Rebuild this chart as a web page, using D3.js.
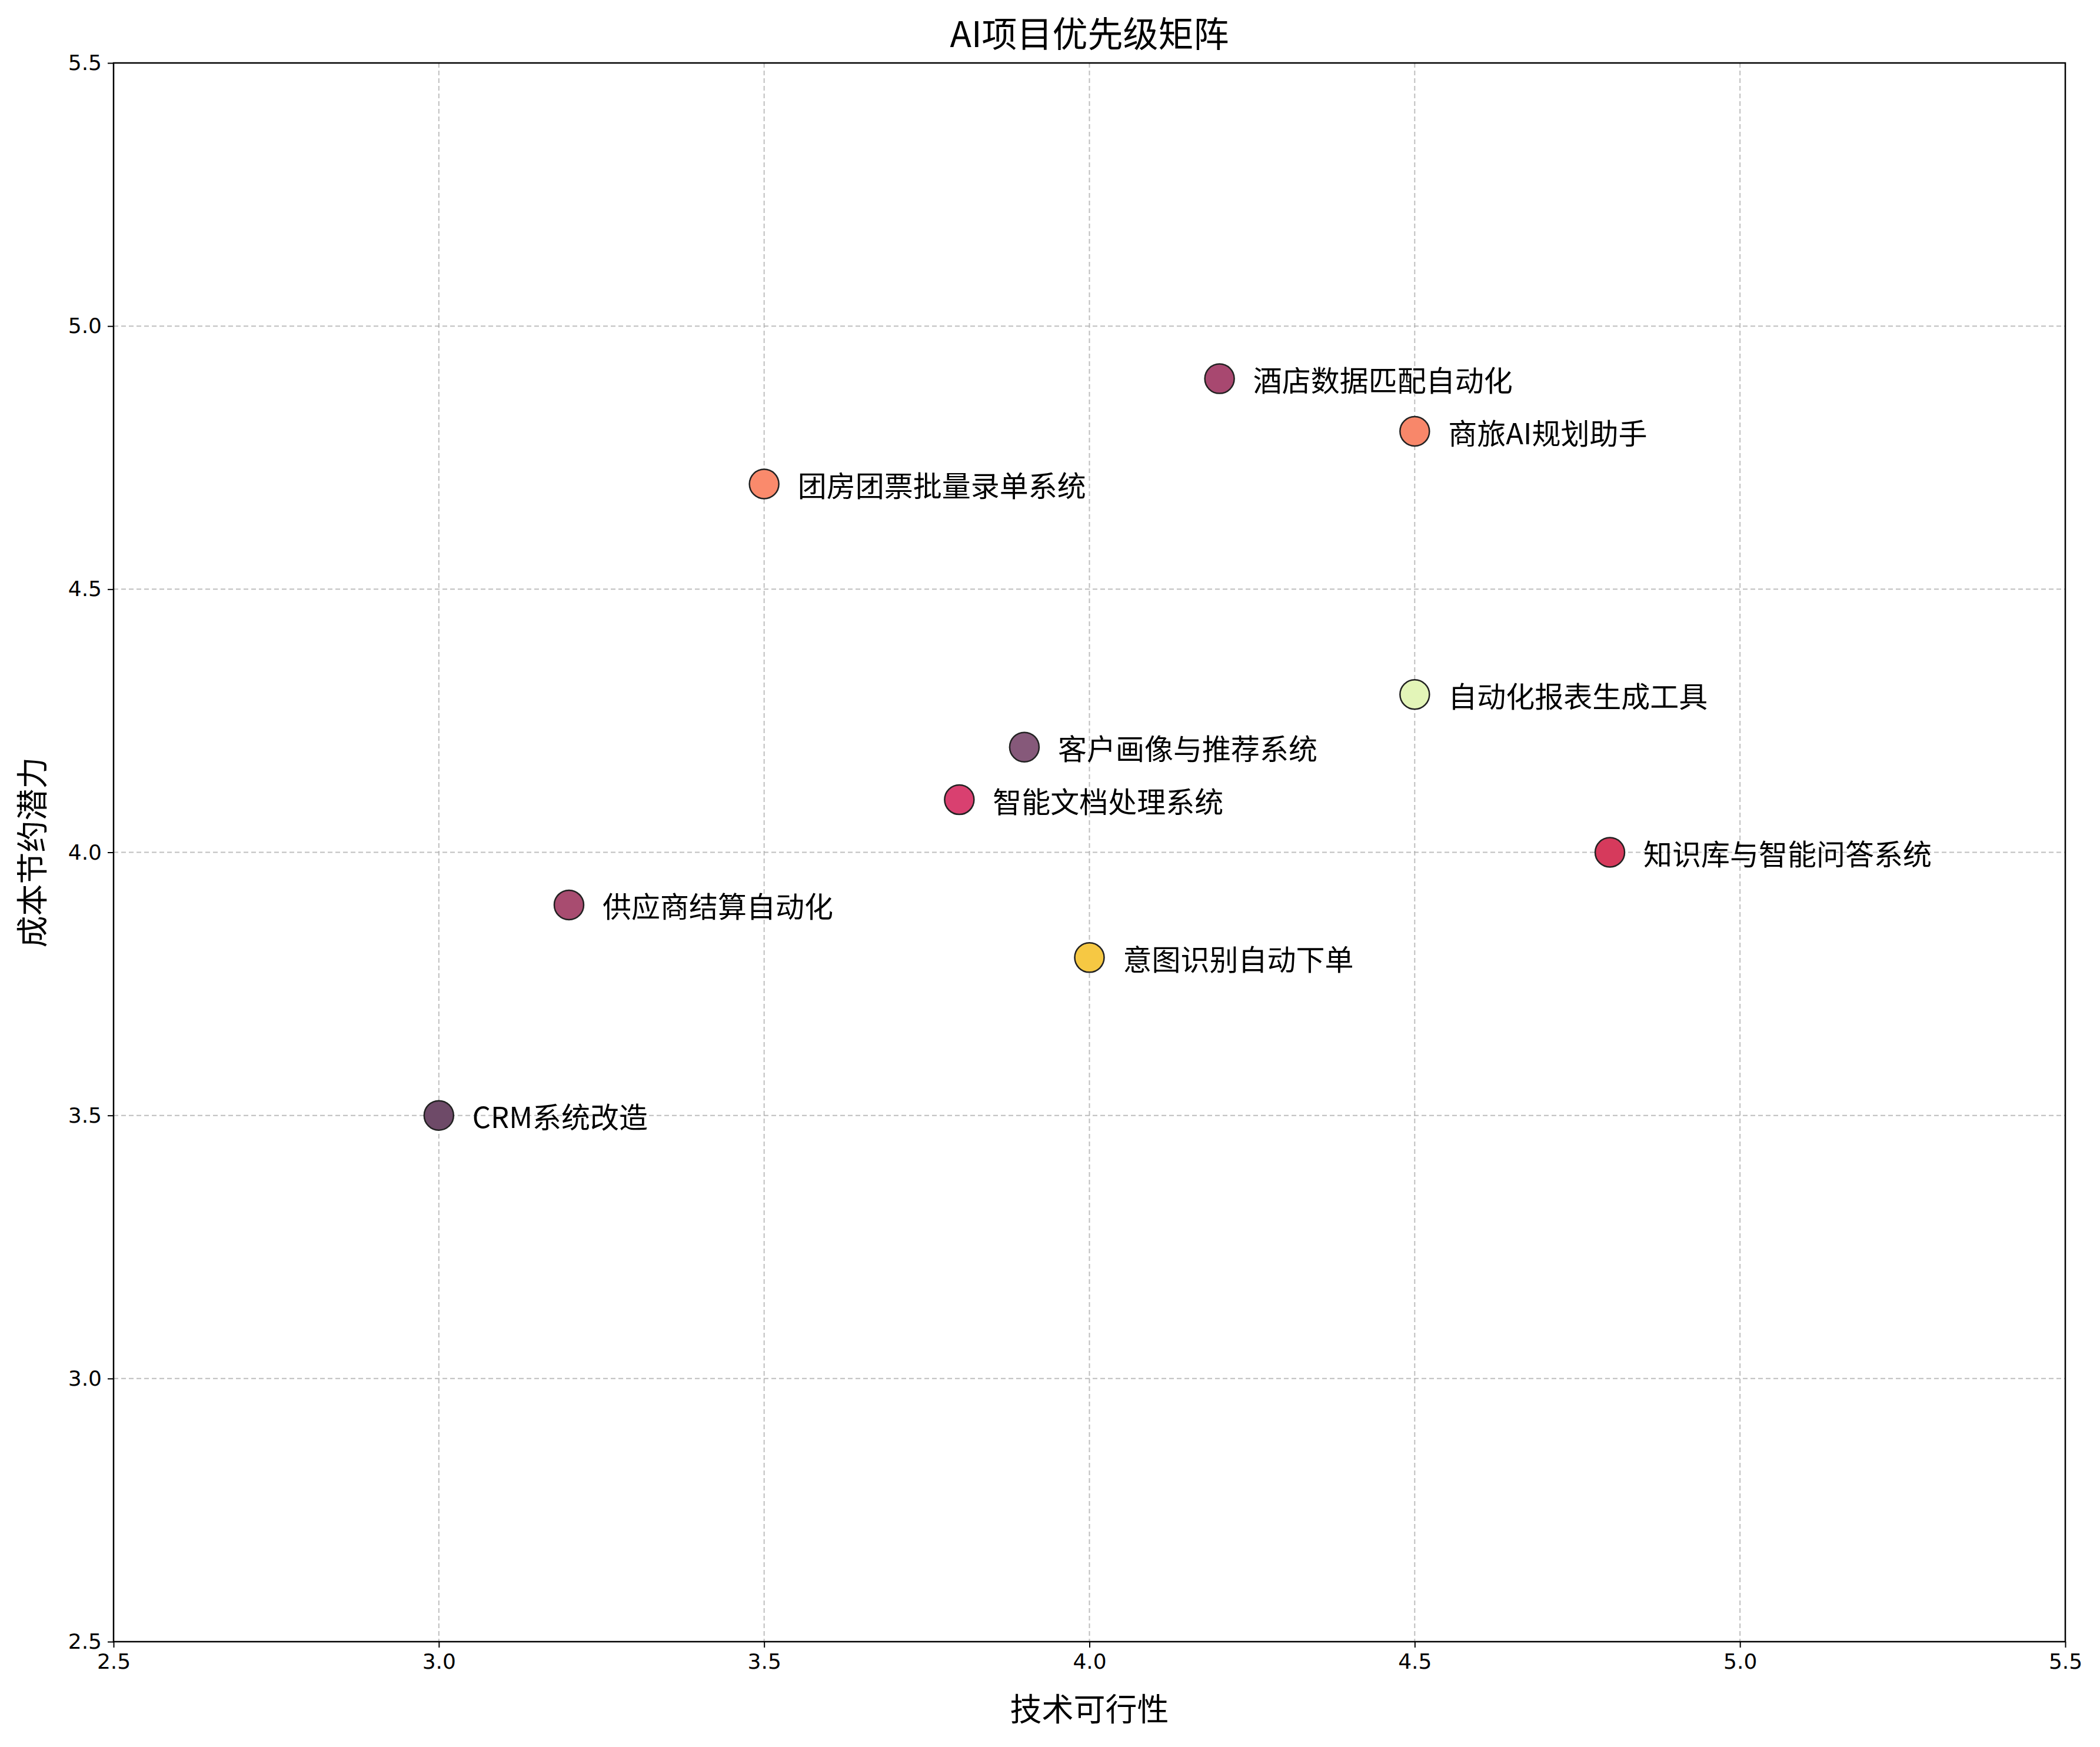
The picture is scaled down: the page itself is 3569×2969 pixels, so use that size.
<!DOCTYPE html>
<meta charset="utf-8">
<head>
    <title>AI项目优先级矩阵</title>
    <script src="https://cdn.jsdelivr.net/npm/d3@7"></script>
    <style>
        body { margin: 0; background: #fff; }
        text { font-family: "Noto Sans CJK SC", "DejaVu Sans", sans-serif; }
    </style>
</head>
<body>
<svg></svg>
<script>
// chart data
var projects = ["酒店数据匹配自动化", "商旅AI规划助手", "团房团票批量录单系统", "自动化报表生成工具",
    "客户画像与推荐系统", "智能文档处理系统", "知识库与智能问答系统", "供应商结算自动化",
    "意图识别自动下单", "CRM系统改造"];
var feasibility = [4.2, 4.5, 3.5, 4.5, 3.9, 3.8, 4.8, 3.2, 4.0, 3.0];
var savings = [4.9, 4.8, 4.7, 4.3, 4.2, 4.1, 4.0, 3.9, 3.8, 3.5];
var colors = ["#a84870", "#f8876a", "#fa8a6c", "#e3f5b8", "#86597a", "#d94070", "#d63a5c", "#a84c70", "#f6c843", "#6e4a68"];
var ticks = [2.5, 3.0, 3.5, 4.0, 4.5, 5.0, 5.5];

var W = 3569, H = 2969;
var m = { left: 193, right: 3510, top: 107, bottom: 2790 };

var svg = d3.select("svg").attr("width", W).attr("height", H);

var x = d3.scaleLinear().domain([2.5, 5.5]).range([m.left, m.right]);
var y = d3.scaleLinear().domain([2.5, 5.5]).range([m.bottom, m.top]);

// grid
svg.append("g").selectAll("line").data(ticks.slice(1, -1)).enter().append("line")
    .attr("x1", d => x(d)).attr("x2", d => x(d)).attr("y1", m.top).attr("y2", m.bottom)
    .style("stroke", "#b0b0b0").style("stroke-width", 2).style("stroke-dasharray", "8,5").style("opacity", 0.8);
svg.append("g").selectAll("line").data(ticks.slice(1, -1)).enter().append("line")
    .attr("y1", d => y(d)).attr("y2", d => y(d)).attr("x1", m.left).attr("x2", m.right)
    .style("stroke", "#b0b0b0").style("stroke-width", 2).style("stroke-dasharray", "8,5").style("opacity", 0.8);

// axes
var xAxis = svg.append("g").attr("transform", "translate(0," + m.bottom + ")")
    .call(d3.axisBottom(x).tickValues(ticks).tickFormat(d3.format(".1f")).tickSize(10).tickPadding(10));
var yAxis = svg.append("g").attr("transform", "translate(" + m.left + ",0)")
    .call(d3.axisLeft(y).tickValues(ticks).tickFormat(d3.format(".1f")).tickSize(10).tickPadding(10));
[xAxis, yAxis].forEach(function (a) {
    a.selectAll("text").style("font-size", "36px").style("font-family", "DejaVu Sans").attr("fill", "#000");
    a.selectAll("line").style("stroke-width", 2);
    a.select(".domain").remove();
});
svg.append("rect").attr("x", m.left).attr("y", m.top)
    .attr("width", m.right - m.left).attr("height", m.bottom - m.top)
    .style("fill", "none").style("stroke", "#000").style("stroke-width", 2.5);

// points
svg.append("g").selectAll("circle").data(projects).enter().append("circle")
    .attr("cx", (d, i) => x(feasibility[i]))
    .attr("cy", (d, i) => y(savings[i]))
    .attr("r", 25)
    .style("fill", (d, i) => colors[i])
    .style("stroke", "#222").style("stroke-width", 2.5);

svg.append("g").selectAll("text").data(projects).enter().append("text")
    .attr("x", (d, i) => x(feasibility[i]) + 57)
    .attr("y", (d, i) => y(savings[i]))
    .attr("dominant-baseline", "central")
    .style("font-size", "49px")
    .text(d => d);

// titles
svg.append("text").attr("x", (m.left + m.right) / 2).attr("y", 80)
    .attr("text-anchor", "middle").style("font-size", "60px").text("AI项目优先级矩阵");
svg.append("text").attr("x", (m.left + m.right) / 2).attr("y", 2925)
    .attr("text-anchor", "middle").style("font-size", "54px").text("技术可行性");
svg.append("text").attr("transform", "translate(75," + (m.top + m.bottom) / 2 + ") rotate(-90)")
    .attr("text-anchor", "middle").style("font-size", "54px").text("成本节约潜力");
</script>
</body>
</html>
